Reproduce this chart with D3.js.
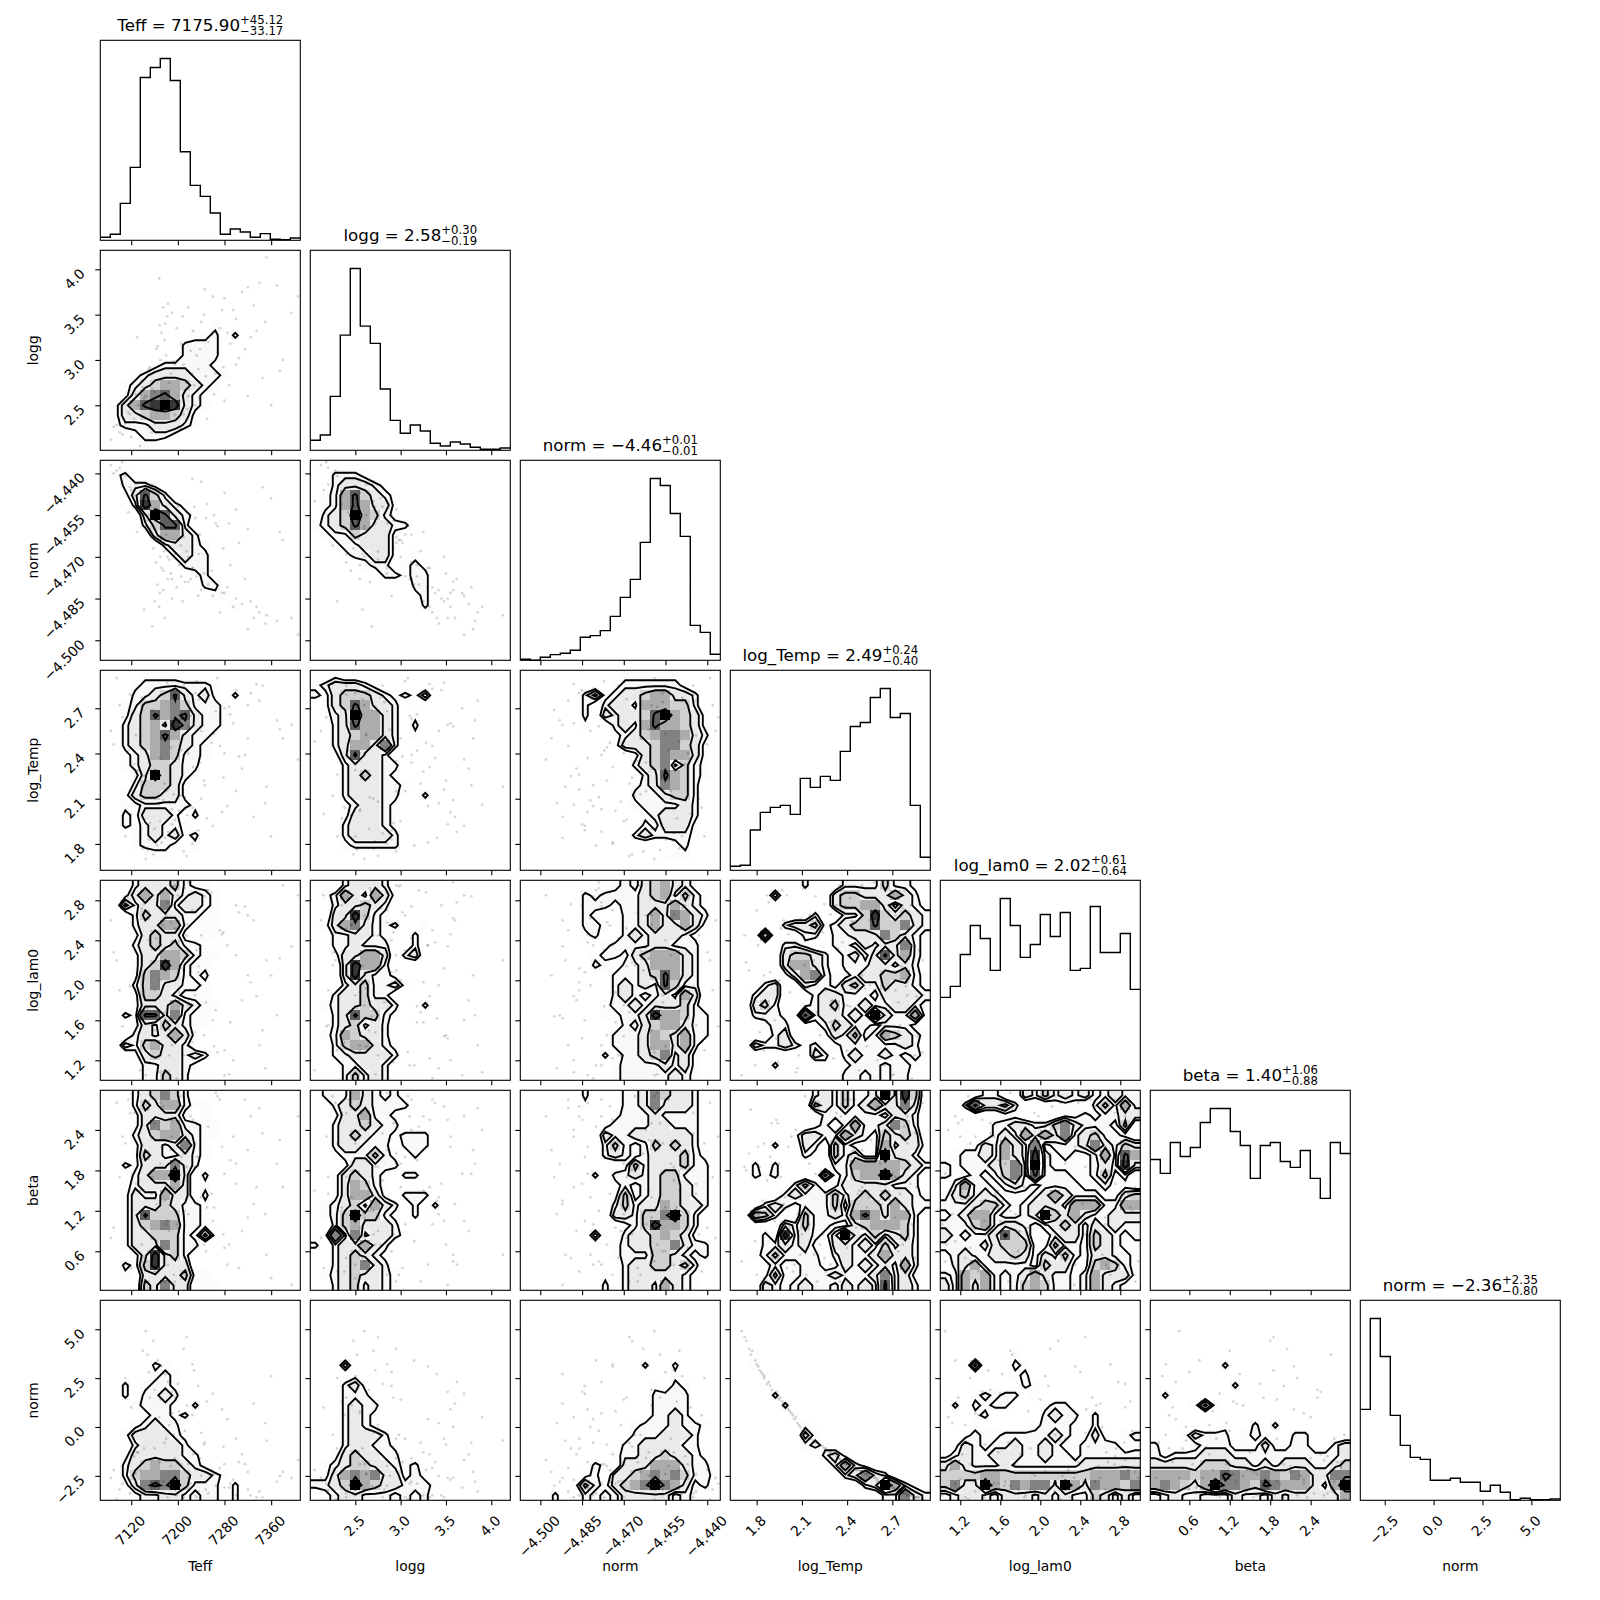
<!DOCTYPE html>
<html>
<head>
<meta charset="utf-8">
<script src="https://cdn.jsdelivr.net/npm/d3@7"></script>
<style>
  body { margin: 0; background: #fff; }
  text { font-family: "DejaVu Sans", sans-serif; fill: #000; }
</style>
</head>
<body>
<svg id="corner" width="1600" height="1600"></svg>
<script>
var varNames = ["Teff", "logg", "norm", "log_Temp", "log_lam0", "beta", "norm"];
var ranges = [[7067, 7410], [2.003, 4.21], [-4.5072, -4.4353], [1.625, 2.952], [1.0, 3.0], [0.021, 2.988], [-3.75, 6.48]];

var tickValues = [
  [7120, 7200, 7280, 7360],
  [2.5, 3.0, 3.5, 4.0],
  [-4.5, -4.485, -4.47, -4.455, -4.44],
  [1.8, 2.1, 2.4, 2.7],
  [1.2, 1.6, 2.0, 2.4, 2.8],
  [0.6, 1.2, 1.8, 2.4],
  [-2.5, 0.0, 2.5, 5.0]
];
var tickDigits = [0, 1, 3, 1, 1, 1, 1];

var medians = ["7175.90", "2.58", "\u22124.46", "2.49", "2.02", "1.40", "\u22122.36"];
var upperErr = ["+45.12", "+0.30", "+0.01", "+0.24", "+0.61", "+1.06", "+2.35"];
var lowerErr = ["\u221233.17", "\u22120.19", "\u22120.01", "\u22120.40", "\u22120.64", "\u22120.88", "\u22120.80"];

// histogram heights, 20 bins each
var histTeff = [9, 18, 111, 219, 489, 519, 546, 480, 266, 165, 132, 82, 18, 34, 25, 9, 20, 3, 2, 7];
var histLogg = [30, 46, 162, 346, 546, 373, 321, 184, 90, 51, 76, 58, 21, 13, 25, 19, 9, 3, 3, 7];
var histNorm = [3, 0, 9, 17, 21, 30, 69, 74, 89, 132, 189, 243, 354, 546, 525, 441, 372, 105, 84, 18];
var histLogTemp = [12, 15, 121, 174, 189, 195, 168, 276, 249, 282, 270, 357, 432, 444, 519, 546, 459, 471, 195, 39];
var histLogLam0 = [249, 282, 378, 465, 426, 330, 546, 465, 369, 408, 498, 432, 504, 330, 336, 522, 384, 384, 441, 273];
var histBeta = [393, 351, 444, 402, 429, 504, 546, 546, 477, 435, 336, 435, 444, 387, 369, 420, 336, 276, 444, 411];
var histNorm2 = [273, 546, 432, 255, 165, 129, 123, 60, 60, 66, 54, 54, 27, 45, 24, 2, 6, 2, 2, 4];

// scattered samples (same row = same sample)
var teffSamples = [7406, 7370, 7352, 7340, 7330, 7320, 7310, 7300, 7295, 7285, 7280, 7272, 7260, 7252, 7245, 7240, 7232, 7225, 7222, 7218, 7215, 7210, 7205, 7195, 7100, 7085, 7110, 7095, 7120, 7135, 7140, 7150, 7160, 7170, 7180, 7190, 7200, 7160, 7175, 7185, 7210, 7155, 7125, 7145, 7230, 7240, 7250, 7265, 7280, 7300, 7320, 7345, 7360, 7380, 7165, 7172, 7178, 7183, 7190, 7195, 7202, 7168, 7175, 7158, 7148, 7212, 7225, 7235, 7130, 7115,
  7128, 7138, 7152, 7163, 7177, 7188, 7198, 7208, 7218, 7228, 7238, 7248, 7258, 7268, 7278, 7290, 7305, 7325, 7350, 7375, 7142, 7156, 7169, 7182, 7193, 7206, 7216, 7226, 7236, 7246, 7105, 7090, 7118, 7132, 7262, 7276, 7288, 7315, 7335, 7395];
var loggSamples = [3.7, 3.82, 4.13, 3.85, 3.6, 3.8, 3.75, 3.45, 3.55, 3.3, 3.68, 3.35, 3.7, 3.2, 3.5, 3.42, 3.05, 2.85, 3.1, 2.6, 2.75, 2.4, 2.25, 2.95, 2.2, 2.12, 2.3, 2.28, 2.15, 2.05, 2.7, 2.9, 2.65, 3.0, 3.05, 2.55, 2.8, 2.3, 2.45, 2.75, 2.95, 2.2, 2.35, 2.6, 2.5, 2.7, 2.35, 2.85, 2.55, 2.95, 2.6, 2.8, 2.5, 3.0, 3.15, 3.3, 3.4, 3.62, 3.52, 2.4, 2.55, 3.9, 3.58, 2.48, 2.52, 2.66, 2.38, 2.9, 3.25, 2.42,
  2.62, 2.78, 2.92, 3.12, 3.22, 2.85, 3.35, 3.48, 3.58, 2.72, 3.12, 2.82, 3.28, 3.08, 2.92, 3.18, 3.02, 3.25, 3.42, 2.88, 2.58, 2.68, 3.38, 3.48, 2.98, 3.18, 2.46, 3.32, 2.58, 3.78, 2.18, 2.26, 2.4, 2.5, 2.62, 3.55, 2.72, 3.12, 3.32, 3.52];
var normSamples = [-4.498, -4.493, -4.491, -4.49, -4.492, -4.496, -4.487, -4.485, -4.488, -4.481, -4.483, -4.49, -4.484, -4.48, -4.476, -4.482, -4.477, -4.474, -4.478, -4.47, -4.468, -4.472, -4.466, -4.465, -4.438, -4.437, -4.441, -4.439, -4.446, -4.45, -4.45, -4.455, -4.46, -4.47, -4.462, -4.478, -4.452, -4.486, -4.475, -4.471, -4.463, -4.444, -4.448, -4.459, -4.456, -4.443, -4.451, -4.458, -4.447, -4.453, -4.46, -4.445, -4.449, -4.464, -4.48, -4.474, -4.492, -4.478, -4.485, -4.469, -4.473, -4.488, -4.482, -4.467, -4.457, -4.479, -4.442, -4.484, -4.461, -4.454,
  -4.444, -4.449, -4.457, -4.472, -4.468, -4.476, -4.481, -4.486, -4.479, -4.452, -4.462, -4.456, -4.475, -4.459, -4.467, -4.473, -4.465, -4.486, -4.494, -4.461, -4.489, -4.495, -4.483, -4.47, -4.464, -4.477, -4.46, -4.474, -4.469, -4.481, -4.436, -4.44, -4.445, -4.452, -4.455, -4.483, -4.458, -4.478, -4.488, -4.492];
var logTempSamples = [2.36, 2.62, 2.18, 2.75, 1.98, 2.5, 2.3, 2.82, 2.6, 2.05, 2.7, 2.45, 1.92, 2.78, 2.22, 2.55, 2.88, 1.8, 2.65, 2.4, 1.72, 2.85, 2.12, 2.35, 2.72, 2.55, 1.85, 2.9, 2.0, 2.48, 1.77, 1.83, 1.9, 1.95, 2.15, 2.03, 1.87, 2.26, 2.6, 2.08, 1.75, 2.75, 2.33, 1.7, 2.8, 2.1, 1.97, 2.68, 2.4, 2.15, 2.72, 2.85, 1.85, 2.5, 1.79, 1.81, 1.84, 1.88, 1.93, 1.96, 2.02, 2.06, 2.09, 1.73, 1.76, 2.11, 2.04, 1.89, 2.28, 2.42,
  2.52, 2.77, 1.94, 2.63, 2.2, 2.44, 2.83, 2.16, 2.58, 1.82, 2.34, 2.74, 2.47, 2.9, 2.24, 2.66, 2.38, 2.8, 2.07, 2.56, 2.25, 2.69, 2.37, 2.87, 2.13, 2.42, 1.99, 2.31, 2.76, 2.19, 2.64, 2.46, 2.79, 2.29, 2.53, 2.01, 2.71, 2.39, 2.86, 2.59];
var logLam0Samples = [2.85, 1.65, 2.2, 1.35, 2.6, 2.05, 1.8, 2.75, 1.2, 2.35, 1.05, 2.5, 1.6, 2.9, 1.45, 1.95, 2.3, 2.7, 1.15, 1.75, 2.45, 1.25, 2.15, 2.95, 1.9, 2.6, 1.3, 2.2, 2.85, 1.1, 1.7, 2.4, 1.5, 2.0, 2.65, 1.35, 2.85, 1.9, 2.55, 1.25, 2.1, 1.55, 2.75, 1.05, 1.85, 2.45, 2.9, 1.7, 1.3, 2.25, 2.65, 1.5, 2.05, 2.95, 1.15, 2.35, 1.62, 2.78, 1.42, 2.52, 1.88, 1.08, 2.62, 2.18, 1.72, 2.92, 1.38, 2.08, 1.58, 2.82,
  1.92, 2.72, 1.18, 2.42, 1.68, 2.58, 1.02, 2.12, 2.98, 1.48, 2.32, 1.78, 2.88, 1.28, 2.48, 1.58, 2.68, 1.98, 1.12, 2.22, 2.76, 1.64, 2.38, 1.44, 2.94, 1.74, 2.56, 1.22, 2.14, 2.84, 1.54, 2.28, 1.94, 2.66, 1.34, 2.46, 1.06, 2.74, 1.84, 2.34];
var betaSamples = [2.6, 1.9, 0.55, 2.72, 1.3, 2.1, 0.9, 1.6, 2.3, 0.4, 1.75, 2.85, 1.05, 2.45, 0.7, 1.4, 2.0, 0.25, 2.6, 1.15, 1.85, 0.5, 2.9, 0.15, 1.7, 0.8, 2.2, 2.8, 0.35, 1.5, 1.2, 0.6, 2.5, 1.9, 1.0, 2.3, 1.65, 0.3, 2.75, 0.9, 2.05, 1.45, 2.65, 0.45, 2.2, 0.85, 1.25, 2.95, 0.65, 1.9, 1.1, 2.35, 0.2, 1.55, 0.75, 2.15, 1.35, 0.4, 2.55, 1.7, 0.95, 2.4, 0.55, 1.8, 2.7, 1.2, 0.3, 2.0, 1.5, 2.85,
  1.6, 0.7, 2.5, 1.3, 0.15, 2.1, 1.0, 2.75, 0.45, 1.85, 2.4, 0.6, 1.45, 2.9, 0.85, 1.95, 0.35, 2.6, 1.15, 2.25, 0.5, 1.7, 2.8, 1.05, 0.25, 2.0, 1.4, 2.55, 0.8, 1.75, 2.3, 0.95, 2.65, 0.4, 1.25, 2.15, 0.7, 2.85, 1.55, 0.1];
var norm2Samples = [-1.7, -2.8, -0.7, -3.3, 1.2, -2.3, -1.4, -3.5, -2.7, 0.4, -3.1, -2.1, 1.7, -3.4, -0.9, -2.5, -3.6, 3.2, -2.9, -1.9, 4.6, -3.6, -0.4, -1.6, -3.2, -2.6, 2.5, -3.7, 1.0, -2.2, 3.9, 2.8, 1.9, 1.4, -0.6, 0.7, 2.2, -1.1, -2.8, 0.1, 4.0, -3.3, -1.5, 4.9, -3.5, -0.3, 1.3, -3.0, -1.9, -0.6, -3.2, -3.6, 2.6, -2.3, 3.4, 3.1, 2.7, 2.3, 1.8, 1.5, 0.8, 0.5, 0.0, 4.4, 3.7, -0.2, 0.6, 2.1, -1.3, -2.0,
  -2.4, -3.4, 1.5, -2.8, -0.8, -2.0, -3.5, -0.6, -2.6, 2.9, -1.6, -3.2, -2.2, -3.7, -1.0, -2.9, -1.8, -3.5, 0.2, -2.5, -1.1, -3.0, -1.8, -3.6, -0.4, -1.9, 1.1, -1.4, -3.3, -0.8, -2.9, -2.2, -3.4, -1.3, -2.4, 0.9, -3.1, -1.9, -3.6, -2.6];
var samples = [teffSamples, loggSamples, normSamples, logTempSamples, logLam0Samples, betaSamples, norm2Samples];

// 2d density per panel: 20 rows top to bottom, 20 columns left to right, level 0-9
var gridLoggTeff = ["00000 00000 00000 00000", "00000 00000 00000 00000", "00000 00000 00000 00000", "00000 00000 00000 00000", "00000 00000 00000 00000", "00000 00000 00000 00000", "00000 00000 00000 00000", "00000 00000 01000 00000",
  "00000 00001 12020 00000", "00000 00022 22000 00000", "00000 00022 22000 00000", "00000 12222 21000 00000", "00012 33332 22100 00000", "00123 45543 21000 00000", "00135 67532 10000 00000", "01357 89832 10000 00000", "01334 55431 00000 00000", "01222 33321 00000 00000", "00012 22100 00000 00000", "00001 10000 00000 00000"];
var gridNormTeff = ["00000 00000 00000 00000", "01200 00000 00000 00000", "00222 10000 00000 00000", "00137 42000 00000 00000", "00028 53210 00000 00000", "00003 97321 00000 00000", "00002 47720 00000 00000", "00000 35532 00000 00000",
  "00000 02332 10000 00000", "00000 00232 20000 00000", "00000 00022 20000 00000", "00000 00001 20000 00000", "00000 00000 22000 00000", "00000 00000 01100 00000", "00000 00000 00010 00000", "00000 00000 00000 00000", "00000 00000 00000 00000", "00000 00000 00000 00000", "00000 00000 00000 00000", "00000 00000 00000 00000"];
var gridNormLogg = ["00000 00000 00000 00000", "00222 10000 00000 00000", "00233 32100 00000 00000", "01257 43210 00000 00000", "01257 53310 00000 00000", "02349 54210 00000 00000", "12347 53322 00000 00000", "01224 33310 00000 00000",
  "00122 33310 00000 00000", "00012 23310 10000 00000", "00000 12201 21000 00000", "00000 00221 22000 00000", "00000 00000 22000 00000", "00000 00000 12000 00000", "00000 00000 02000 00000", "00000 00000 00000 00000", "00000 00000 00000 00000", "00000 00000 00000 00000", "00000 00000 00000 00000", "00000 00000 00000 00000"];
var gridTempTeff = ["00001 11100 00000 00000", "00012 22222 21000 00000", "00022 34732 31020 00000", "00124 45642 22100 00000", "00134 75673 22100 00000", "00234 53863 22100 00000", "00234 57532 21000 00000", "00234 56432 10000 00000",
  "00123 56422 10000 00000", "00123 44322 00000 00000", "00013 94321 00000 00000", "00024 44310 00000 00000", "00134 43310 00000 00000", "00112 22221 00000 00000", "00213 33202 00000 00000", "00212 32210 00000 00000", "00012 32312 00000 00000", "00012 22101 00000 00000", "00000 11000 00000 00000", "00000 00000 00000 00000"];
var gridTempLogg = ["00100 00000 00000 00000", "12333 21000 00000 00000", "21344 43212 13000 00000", "01347 53320 00000 00000", "01239 55320 10000 00000", "00237 55320 20000 00000", "00234 55320 10000 00000", "00235 53620 00000 00000",
  "00137 33200 00000 00000", "00023 33220 00000 00000", "00023 43210 00000 00000", "00023 33221 00000 00000", "00023 33220 02000 00000", "00012 33210 00000 00000", "00013 33210 00000 00000", "00023 33210 00000 00000", "00023 33320 00000 00000", "00012 22220 00000 00000", "00000 00000 00000 00000", "00000 00000 00000 00000"];
var gridTempNorm = ["00000 00000 11111 10000", "00000 00001 22222 21000", "00000 02412 33455 33200", "00000 02023 32555 44200", "00000 02032 33479 54310", "00000 01002 32575 54310", "00000 00001 23456 65320", "00000 00001 33346 64310",
  "00000 00000 01346 55310", "00000 00000 02346 24210", "00000 00000 00237 54210", "00000 00000 01236 54200", "00000 00000 02223 44200", "00000 00000 01222 23200", "00000 00000 00123 33200", "00000 00000 00213 33100", "00000 00000 02322 22100", "00000 00000 00000 12000", "00000 00000 00001 11000", "00000 00000 00000 00000"];
var gridLamTeff = ["00023 33421 10000 00000", "00135 35323 21000 00000", "00423 36233 21000 00000", "00024 33322 11000 00000", "00023 35521 11000 00000", "00013 43310 11000 00000", "00023 43422 10000 00000", "00013 35542 11000 00000",
  "00013 48521 10000 00000", "00014 65421 20000 00000", "00024 63322 10000 00000", "00014 43211 10000 00000", "00013 33532 11000 00000", "00217 73621 10000 00000", "00013 24321 10000 00000", "00023 23531 00000 00000", "00324 53320 00000 00000", "00013 43323 20000 00000", "00002 23321 00000 00000", "00002 24320 00000 00000"];
var gridLamLogg = ["00023 33200 00000 00000", "01253 25310 00000 00000", "00233 43200 00000 00000", "00338 42100 00000 00000", "01356 32120 01000 00000", "00223 32100 20000 00000", "00223 22200 20000 00000", "00133 55302 30000 00000",
  "00038 55200 00000 00000", "00038 32210 00000 00000", "00023 42231 00000 00000", "00233 42200 00000 00000", "01233 43320 02000 00000", "00237 44210 00000 00000", "00234 23200 00000 00000", "01254 33200 00000 00000", "00245 53210 00000 00000", "00223 33320 00000 00000", "00022 33200 00000 00000", "00024 23200 00000 00000"];
var gridLamNorm = ["00000 00001 21345 32100", "00000 02122 22345 24210", "00000 02221 22333 53210", "00000 02100 22353 65320", "00000 02210 22353 35310", "00000 01200 23233 32100", "00000 00012 22233 22200", "00000 00122 13455 53200",
  "00000 00210 22355 53200", "00000 00002 22347 53200", "00000 00002 32327 42200", "00000 00002 32123 25300", "00000 00012 23233 34200", "00000 00011 22385 54220", "00000 00000 21345 53220", "00000 00002 22354 35220", "00000 00002 22355 35200", "00000 00020 22346 23100", "00000 00001 22223 23100", "00000 00001 22222 32100"];
var gridLamTemp = ["00000 00200 02222 42210", "00003 00000 34433 35320", "00000 00000 34455 31321", "00000 00020 02248 43432", "00000 23341 23447 44632", "00050 00220 22333 64321", "00000 22100 22132 33621", "00000 34432 02313 73521",
  "00000 35532 02223 32320", "00000 13562 11233 44521", "00023 00322 13422 43321", "00233 00023 32221 33332", "00342 00123 42232 23321", "00222 10723 32329 32251", "00012 20012 43221 22210", "00002 30001 32412 54321", "00322 32120 12222 22320", "00000 00032 02322 32121", "00002 00001 01222 12210", "00000 00000 02212 12200"];
var gridBetaTeff = ["00023 46420 00000 00000", "00024 35521 10000 00000", "00013 33310 10000 00000", "00013 64522 11000 00000", "00023 45532 11000 00000", "00013 32362 10000 00000", "00014 32232 10000 00000", "00213 33632 00000 00000",
  "00023 55930 20000 00000", "00123 33530 10000 00000", "00132 25330 20000 00000", "00133 34322 10000 00000", "00137 44422 10000 00000", "00134 56522 10000 00000", "00133 44421 41000 00000", "00133 36422 00000 00000", "00013 83420 00000 00000", "00214 83330 00000 00000", "00103 33341 10000 00000", "00004 36330 11000 00000"];
var gridBetaLogg = ["02225 32120 00000 00000", "00234 32222 00000 00000", "00133 52210 00000 00000", "00233 43220 00000 00000", "00234 32212 22000 00000", "00233 22202 22000 00000", "00122 24210 20000 00000", "00013 32220 00000 00000",
  "00134 32102 20000 00000", "00135 42100 00000 00000", "00135 53102 22000 00000", "01234 25320 20200 00000", "01249 44210 20000 00000", "00245 33320 00000 00000", "01626 23321 00000 00000", "20233 53200 00000 00000", "00234 32100 00000 00000", "00234 63200 00000 00000", "01234 33210 00000 00000", "00234 23210 00000 00000"];
var gridBetaNorm = ["00000 02000 22364 33200", "00000 01000 22363 33200", "00000 00001 22232 22200", "00000 00012 22233 22200", "00000 00032 23333 33200", "00000 00024 21243 43200", "00000 00023 21233 34210", "00000 00000 14233 34220",
  "00000 00202 23234 42220", "00000 00001 21234 43220", "00000 00001 41234 43220", "00000 00002 42335 43320", "00000 00003 32446 94200", "00000 00000 12485 54200", "00000 00300 23345 43100", "00000 00001 23344 63220", "00000 00001 22244 32120", "00000 00000 23344 34200", "00000 00010 23333 32100", "00000 00020 23325 32100"];
var gridBetaTemp = ["00000 00023 24223 93840", "00000 00043 24235 33630", "00000 00002 22222 13320", "00000 00012 02522 36420", "00000 01332 25321 43430", "00002 00320 42111 52331", "00000 00210 42311 93320", "00202 00000 22555 55432",
  "00212 00004 12455 95320", "00000 02420 13333 32220", "00000 23222 42343 43321", "00023 21222 41444 35322", "00542 00422 32575 35520", "00000 32422 11345 55420", "00020 82321 39324 23420", "00022 32310 33232 42320", "00124 22220 23223 53320", "00012 11221 13232 32520", "00014 11222 32223 62310", "00032 12322 13232 72320"];
var gridBetaLam = ["00002 20032 42323 12322", "00273 34200 01110 24252", "00000 01100 00112 12233", "00000 22332 24632 22140", "00000 23253 53623 42210", "00113 25326 12223 63243", "01223 25328 21211 25275", "21222 34629 21111 23283",
  "21121 24627 22211 24120", "02522 12321 22221 12110", "13423 21112 35322 21134", "22234 42123 33255 52255", "12355 21123 94353 22333", "22245 23321 23431 32322", "32122 37430 12331 43212", "22221 34441 14221 43211", "12322 33431 32421 33221", "02352 22221 43311 45421", "21545 21235 32212 53331", "31535 21245 42212 53210"];
var gridNorm2Teff = ["00000 00000 00000 00000", "00000 00000 00000 00000", "00000 00000 00000 00000", "00000 00000 00000 00000", "00000 00000 00000 00000", "00000 00000 00000 00000", "00000 21000 00000 00000", "00000 12100 00000 00000",
  "00201 22100 00000 00000", "00202 23200 00000 00000", "00012 22102 00000 00000", "00001 22120 00000 00000", "00012 32200 00000 00000", "00133 33210 00000 00000", "00023 33320 00000 00000", "00133 33322 00000 00000", "00234 54432 10000 00000", "00245 56643 32100 00000", "00136 76942 22020 00000", "00012 23321 22020 00000"];
var gridNorm2Logg = ["00000 00000 00000 00000", "00000 00000 00000 00000", "00000 00000 00000 00000", "00000 00000 00000 00000", "00000 00000 00000 00000", "00000 00000 00000 00000", "00030 00000 00000 00000", "00001 00000 00000 00000",
  "00023 10000 00000 00000", "00022 20000 00000 00000", "00023 22000 00000 00000", "00023 21000 00000 00000", "00023 21000 00000 00000", "00023 33200 00000 00000", "00023 32210 00000 00000", "00134 33220 00000 00000", "01234 43321 20000 00000", "11356 56331 21000 00000", "22349 54332 22100 00000", "01233 22212 12000 00000"];
var gridNorm2Norm = ["00000 00000 00000 00000", "00000 00000 00000 00000", "00000 00000 00000 00000", "00000 00000 00000 00000", "00000 00000 00000 00000", "00000 00000 00000 00000", "00000 00000 00200 20000", "00000 00000 00000 10000",
  "00000 00000 00010 21000", "00000 00000 00022 22000", "00000 00000 00022 22000", "00000 00000 00022 32000", "00000 00000 01222 32210", "00000 00000 02223 33200", "00000 00000 22333 32200", "00000 00001 22334 33210", "00000 00210 33355 53220", "00000 01203 34565 64221", "00000 14213 45696 53120", "00020 02121 33333 12100"];
var gridNorm2Temp = ["00000 00000 00000 00000", "00000 00000 00000 00000", "00000 00000 00000 00000", "00000 00000 00000 00000", "00000 00000 00000 00000", "00100 00000 00000 00000", "00100 00000 00000 00000", "00010 00000 00000 00000",
  "00010 00000 00000 00000", "00002 00000 00000 00000", "00000 20000 00000 00000", "00000 01000 00000 00000", "00000 00100 00000 00000", "00000 00310 00000 00000", "00000 00121 00000 00000", "00000 00002 31000 00000", "00000 00000 25210 00000", "00000 00000 02363 20000", "00000 00000 00023 95210", "00000 00000 00000 22632"];
var gridNorm2Lam = ["00000 00000 00000 00000", "00000 00000 00000 00000", "00000 00000 00000 00000", "00000 00000 00000 00000", "00000 00000 00000 00000", "00000 00100 00000 00000", "00040 00210 00000 00000", "00000 00120 00000 00000",
  "00000 00021 00000 00000", "00012 12201 00000 00000", "02021 22000 12200 00000", "00012 00000 23220 20000", "00010 00001 22210 20000", "00121 12222 23211 31012", "01321 22322 32112 22201", "12322 33322 32212 22222", "35322 23222 22223 33333", "44445 54444 44444 55565", "46339 54656 63953 65546", "12332 13332 32322 43131"];
var gridNorm2Beta = ["00000 00000 00000 00000", "00000 00000 00000 00000", "00000 00000 00000 00000", "00000 00000 00000 00000", "00000 00000 00000 00000", "00000 00000 00000 00000", "00000 00200 00000 00000", "00000 00000 00000 00000",
  "00000 00020 00000 00000", "02000 00000 00000 00000", "00001 41000 00000 00000", "00000 00000 00000 00000", "00000 00100 20200 00000", "00013 22201 21002 20000", "20001 22211 13112 20023", "21222 33322 22222 22223", "33333 44433 23233 32234", "55554 55765 56546 53366", "56543 59665 47655 53259", "12322 11132 21323 33335"];

var panels = [
  [1, 0, gridLoggTeff],
  [2, 0, gridNormTeff], [2, 1, gridNormLogg],
  [3, 0, gridTempTeff], [3, 1, gridTempLogg], [3, 2, gridTempNorm],
  [4, 0, gridLamTeff], [4, 1, gridLamLogg], [4, 2, gridLamNorm], [4, 3, gridLamTemp],
  [5, 0, gridBetaTeff], [5, 1, gridBetaLogg], [5, 2, gridBetaNorm], [5, 3, gridBetaTemp], [5, 4, gridBetaLam],
  [6, 0, gridNorm2Teff], [6, 1, gridNorm2Logg], [6, 2, gridNorm2Norm], [6, 3, gridNorm2Temp], [6, 4, gridNorm2Lam], [6, 5, gridNorm2Beta]
];
var hists = [histTeff, histLogg, histNorm, histLogTemp, histLogLam0, histBeta, histNorm2];

var left = 100.3, top_ = 40.3, size = 200, step = 210, nBins = 20, n = varNames.length;
var levels = [1.5, 2.3, 3.5, 6.5];
var shades = [255, 252, 248, 234, 208, 172, 130, 95, 55, 0];

var svg = d3.select("#corner");
var defs = svg.append("defs");

var xScales = ranges.map(function (r, i) {
  return d3.scaleLinear().domain(r).range([left + step * i, left + step * i + size]);
});
var yScales = ranges.map(function (r, j) {
  return d3.scaleLinear().domain(r).range([top_ + step * j + size, top_ + step * j]);
});

function parseGrid(rows) {
  var out = [];
  for (var r = 0; r < nBins; r++) {
    var s = (rows[r] || "").replace(/ /g, "").padEnd(nBins, "0").slice(0, nBins);
    out.push(s.split("").map(Number));
  }
  return out;
}

function padded(grid) {
  // one extra cell all round so lines run out past the frame
  var flat = [];
  for (var r = -1; r <= nBins; r++) {
    for (var c = -1; c <= nBins; c++) {
      var rr = Math.max(0, Math.min(nBins - 1, r));
      var cc = Math.max(0, Math.min(nBins - 1, c));
      flat.push(grid[rr][cc]);
    }
  }
  return flat;
}

function frame(g) {
  g.append("rect")
    .attr("x", 0).attr("y", 0).attr("width", size).attr("height", size)
    .attr("fill", "none").attr("stroke", "#000").attr("stroke-width", 1.1);
}

function rotatedLabel(parent, str, place) {
  var t = parent.append("text").attr("font-size", 13.9).attr("text-anchor", "middle")
    .attr("dominant-baseline", "central").text(str);
  var half = (t.node().getComputedTextLength() + 10.5) * Math.SQRT1_2 / 2;
  var p = place(half);
  t.attr("transform", "translate(" + p[0] + "," + p[1] + ") rotate(-45)");
}

function fmt(v, i) {
  return d3.format("." + tickDigits[i] + "f")(v).replace("-", "\u2212");
}

function drawTicks(row, col, isHist) {
  var g = svg.append("g");
  var xAxis = d3.axisBottom(xScales[col]).tickValues(tickValues[col]).tickSize(5).tickFormat("");
  g.append("g").attr("transform", "translate(0," + (top_ + step * row + size) + ")").call(xAxis)
    .call(function (a) { a.select(".domain").remove(); })
    .selectAll("line").attr("stroke", "#000").attr("stroke-width", 1.1);
  if (!isHist) {
    var yAxis = d3.axisLeft(yScales[row]).tickValues(tickValues[row]).tickSize(5).tickFormat("");
    g.append("g").attr("transform", "translate(" + (left + step * col) + ",0)").call(yAxis)
      .call(function (a) { a.select(".domain").remove(); })
      .selectAll("line").attr("stroke", "#000").attr("stroke-width", 1.1);
  }
  if (row === n - 1) {
    tickValues[col].forEach(function (v) {
      rotatedLabel(svg, fmt(v, col), function (h) {
        return [xScales[col](v) - 1, top_ + step * row + size + 14 + h];
      });
    });
  }
  if (col === 0 && !isHist) {
    tickValues[row].forEach(function (v) {
      rotatedLabel(svg, fmt(v, row), function (h) {
        return [86 - h, yScales[row](v) - 2 + h];
      });
    });
  }
}

function drawTitle(i) {
  var cx = left + step * i + size / 2;
  var base = top_ + step * i - 9.5;
  var t = svg.append("text").attr("font-size", 16.7).attr("y", base).text(varNames[i] + " = " + medians[i]);
  var sup = svg.append("text").attr("font-size", 11.7).attr("y", base - 6.5).text(upperErr[i]);
  var sub = svg.append("text").attr("font-size", 11.7).attr("y", base + 3.8).text(lowerErr[i]);
  var w = t.node().getComputedTextLength();
  var sw = Math.max(sup.node().getComputedTextLength(), sub.node().getComputedTextLength());
  var x0 = cx - (w + sw) / 2;
  t.attr("x", x0);
  sup.attr("x", x0 + w);
  sub.attr("x", x0 + w);
}

function drawHist(i) {
  var x = xScales[i], binW = (ranges[i][1] - ranges[i][0]) / nBins;
  var y = d3.scaleLinear().domain([0, d3.max(hists[i]) * 1.1]).range([top_ + step * i + size, top_ + step * i]);
  var pts = hists[i].map(function (v, b) { return [ranges[i][0] + b * binW, v]; });
  pts.push([ranges[i][1], hists[i][nBins - 1]]);
  var line = d3.line().x(function (d) { return x(d[0]); }).y(function (d) { return y(d[1]); }).curve(d3.curveStepAfter);
  svg.append("path").attr("d", line(pts)).attr("fill", "none").attr("stroke", "#000").attr("stroke-width", 1.4);
  var g = svg.append("g").attr("transform", "translate(" + x.range()[0] + "," + (top_ + step * i) + ")");
  frame(g);
  drawTicks(i, i, true);
  drawTitle(i);
}

function drawPair(row, col, rows) {
  var grid = parseGrid(rows);
  var x = xScales[col], y = yScales[row];
  var xr = ranges[col], yr = ranges[row];
  var dx = (xr[1] - xr[0]) / nBins, dy = (yr[1] - yr[0]) / nBins;
  var clipId = "clip-" + row + "-" + col;
  defs.append("clipPath").attr("id", clipId).append("rect")
    .attr("x", x.range()[0]).attr("y", y.range()[1]).attr("width", size).attr("height", size);
  var g = svg.append("g").attr("clip-path", "url(#" + clipId + ")");

  var cells = [];
  grid.forEach(function (vals, r) {
    vals.forEach(function (v, c) { if (v > 0) cells.push({ r: r, c: c, v: v }); });
  });
  g.selectAll("rect.cell").data(cells).enter().append("rect")
    .attr("class", "cell")
    .attr("x", function (d) { return x(xr[0] + d.c * dx); })
    .attr("y", function (d) { return y(yr[1] - d.r * dy); })
    .attr("width", function (d) { return x(xr[0] + (d.c + 1) * dx) - x(xr[0] + d.c * dx); })
    .attr("height", function (d) { return y(yr[1] - (d.r + 1) * dy) - y(yr[1] - d.r * dy); })
    .attr("fill", function (d) { var s = shades[d.v]; return "rgb(" + s + "," + s + "," + s + ")"; })
    .attr("shape-rendering", "crispEdges");

  g.selectAll("circle").data(d3.range(samples[0].length)).enter().append("circle")
    .attr("cx", function (k) { return x(samples[col][k]); })
    .attr("cy", function (k) { return y(samples[row][k]); })
    .attr("r", 1.4)
    .attr("fill", "#000")
    .attr("fill-opacity", 0.16);

  var contours = d3.contours().size([nBins + 2, nBins + 2]).smooth(true).thresholds(levels)(padded(grid));
  var toData = d3.geoTransform({
    point: function (px, py) {
      this.stream.point(x(xr[0] + (px - 1) * dx), y(yr[1] - (py - 1) * dy));
    }
  });
  var path = d3.geoPath(toData);
  g.selectAll("path").data(contours).enter().append("path")
    .attr("d", path)
    .attr("fill", "none")
    .attr("stroke", "#000")
    .attr("stroke-width", 1.9)
    .attr("stroke-linejoin", "miter");

  var f = svg.append("g").attr("transform", "translate(" + x.range()[0] + "," + y.range()[1] + ")");
  frame(f);
  drawTicks(row, col, false);
}

panels.forEach(function (p) { drawPair(p[0], p[1], p[2]); });
d3.range(n).forEach(drawHist);

varNames.forEach(function (name, i) {
  svg.append("text").attr("font-size", 13.9).attr("text-anchor", "middle")
    .attr("x", left + step * i + size / 2).attr("y", 1571).text(name);
});
d3.range(1, n).forEach(function (j) {
  svg.append("text").attr("font-size", 13.9).attr("text-anchor", "middle")
    .attr("transform", "translate(38," + (top_ + step * j + size / 2) + ") rotate(-90)")
    .text(varNames[j]);
});
</script>
</body>
</html>
